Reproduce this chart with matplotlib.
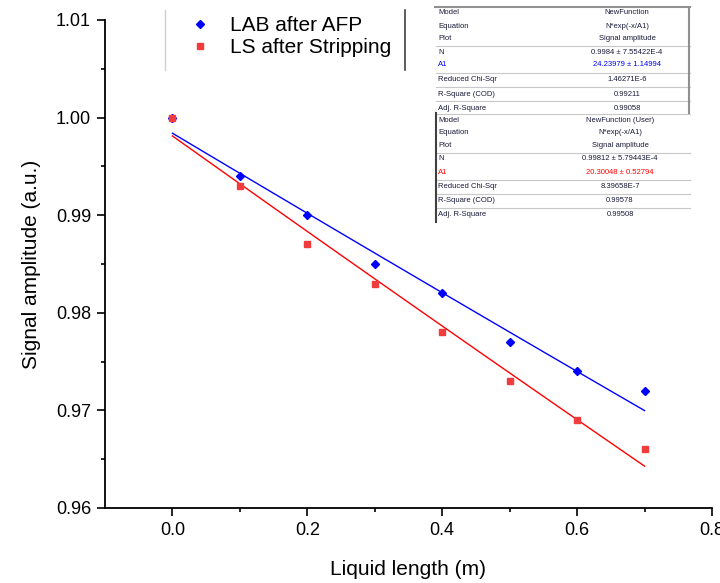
import numpy as np
import matplotlib
matplotlib.use("Agg")
import matplotlib.pyplot as plt
from matplotlib.lines import Line2D

plt.rcParams['font.family'] = ['Liberation Sans', 'DejaVu Sans']

# measured data
length = [0.0, 0.1, 0.2, 0.3, 0.4, 0.5, 0.6, 0.7]
labAfp = [1.000, 0.994, 0.990, 0.985, 0.982, 0.977, 0.974, 0.972]
lsStrip = [1.000, 0.993, 0.987, 0.983, 0.978, 0.973, 0.969, 0.966]

# fit parameters y = N*exp(-x/A1)
fitN = [0.9984, 0.99812]
fitA1 = [24.23979, 20.30048]

xTicks = [0.0, 0.2, 0.4, 0.6, 0.8]
yTicks = [0.96, 0.97, 0.98, 0.99, 1.00, 1.01]

tableLabels = ["Model", "Equation", "Plot", "N", "A1",
               "Reduced Chi-Sqr", "R-Square (COD)", "Adj. R-Square"]
tableLab = ["NewFunction", "N*exp(-x/A1)", "Signal amplitude",
            "0.9984 \u00b1 7.55422E-4", "24.23979 \u00b1 1.14994",
            "1.46271E-6", "0.99211", "0.99058"]
tableLs = ["NewFunction (User)", "N*exp(-x/A1)", "Signal amplitude",
           "0.99812 \u00b1 5.79443E-4", "20.30048 \u00b1 0.52794",
           "8.39658E-7", "0.99578", "0.99508"]

W, H = 720, 583
fig = plt.figure(figsize=(W / 100, H / 100), dpi=100)
ax = fig.add_axes([105 / W, 1 - 508 / H, (712 - 105) / W, (508 - 20) / H])

xFit = np.linspace(0, 0.7, 50)
ax.plot(xFit, fitN[0] * np.exp(-xFit / fitA1[0]), color='#0000ff', lw=1.0)
ax.plot(xFit, fitN[1] * np.exp(-xFit / fitA1[1]), color='#ff0000', lw=1.0)
ax.plot(length, labAfp, 'D', color='#0000ff', ms=4.5, ls='none', label='LAB after AFP')
ax.plot(length, lsStrip, 's', color='#f03c3c', ms=4.5, ls='none', label='LS after Stripping')

ax.set_xlim(-0.1, 0.8)
ax.set_ylim(0.96, 1.01)
ax.set_xticks(xTicks)
ax.set_yticks(yTicks)
ax.set_xticklabels([f"{v:.1f}" for v in xTicks])
ax.set_yticklabels([f"{v:.2f}" for v in yTicks])
ax.set_xticks(np.arange(0.1, 0.8, 0.2), minor=True)
ax.set_yticks(np.arange(0.965, 1.01, 0.01), minor=True)
ax.tick_params(which='major', direction='out', length=6, width=1.2, labelsize=13, pad=4)
ax.tick_params(which='minor', direction='out', length=3, width=1.2)
for s in ['top', 'right']:
    ax.spines[s].set_visible(False)
for s in ['left', 'bottom']:
    ax.spines[s].set_linewidth(1.3)

ax.set_xlabel('Liquid length (m)', fontsize=15, labelpad=15)
ax.set_ylabel('Signal amplitude (a.u.)', fontsize=15, labelpad=11)

leg = ax.legend(loc='upper left', bbox_to_anchor=(176 / W, 1 - 8 / H), bbox_transform=fig.transFigure,
                frameon=False, fontsize=15, handletextpad=0.7, labelspacing=0.15,
                handlelength=1.5, borderaxespad=0)

def px(x, y):
    return x / W, 1 - y / H

def vline(x, y0, y1, color, lw):
    (fx, fy0), (_, fy1) = px(x, y0), px(x, y1)
    fig.add_artist(Line2D([fx, fx], [fy0, fy1], color=color, lw=lw, transform=fig.transFigure))

def hline(x0, x1, y, color, lw):
    (fx0, fy), (fx1, _) = px(x0, y), px(x1, y)
    fig.add_artist(Line2D([fx0, fx1], [fy, fy], color=color, lw=lw, transform=fig.transFigure))

# legend frame edges
vline(165, 10, 70, '#d0d0d0', 1.0)
vline(405, 10, 70, '#404040', 1.2)

# fit result tables
def drawTable(top, values, valColor, valX):
    rowY = [top + 6 + 13 * i for i in range(5)] + [top + 73, top + 87, top + 101]
    for i, (lab, val) in enumerate(zip(tableLabels, values)):
        c = valColor if lab == "A1" else '#1a1a3a'
        fx, fy = px(438, rowY[i])
        fig.text(fx, fy, lab, fontsize=5.5, color=c, ha='left', va='center')
        fx, fy = px(valX, rowY[i])
        fig.text(fx, fy, val, fontsize=5.5, color=c, ha='center', va='center')
    for y in [top + 39, top + 66, top + 80, top + 94]:
        hline(436, 690, y, '#c8c8c8', 0.8)

fig.patches.append(plt.Rectangle(px(433, 222), 258 / W, 216 / H, transform=fig.transFigure,
                                 facecolor='white', edgecolor='none', zorder=0))
drawTable(7, tableLab, '#0000ff', 627)
hline(435, 690, 7, '#909090', 1.5)
vline(689, 7, 113, '#909090', 1.5)
drawTable(114, tableLs, '#ff0000', 620)
hline(436, 690, 114, '#c8c8c8', 0.8)
vline(436, 113, 222, '#404040', 1.5)

fig.savefig('out.png', dpi=100)
